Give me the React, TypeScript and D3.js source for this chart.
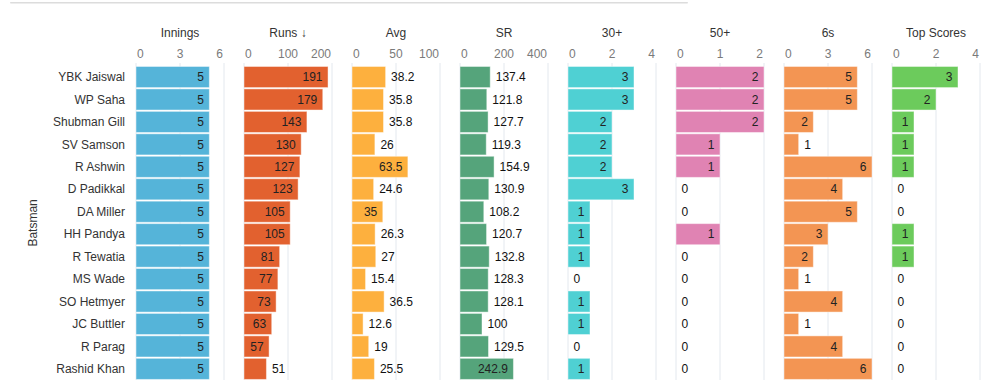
import React from "react";
import * as d3 from "d3";

const batsmen = ["YBK Jaiswal", "WP Saha", "Shubman Gill", "SV Samson", "R Ashwin", "D Padikkal", "DA Miller", "HH Pandya", "R Tewatia", "MS Wade", "SO Hetmyer", "JC Buttler", "R Parag", "Rashid Khan"];
const innings = [5, 5, 5, 5, 5, 5, 5, 5, 5, 5, 5, 5, 5, 5];
const runs = [191, 179, 143, 130, 127, 123, 105, 105, 81, 77, 73, 63, 57, 51];
const avg = [38.2, 35.8, 35.8, 26, 63.5, 24.6, 35, 26.3, 27, 15.4, 36.5, 12.6, 19, 25.5];
const sr = [137.4, 121.8, 127.7, 119.3, 154.9, 130.9, 108.2, 120.7, 132.8, 128.3, 128.1, 100, 129.5, 242.9];
const thirties = [3, 3, 2, 2, 2, 3, 1, 1, 1, 0, 1, 1, 0, 1];
const fifties = [2, 2, 2, 1, 1, 0, 0, 1, 0, 0, 0, 0, 0, 0];
const sixes = [5, 5, 2, 1, 6, 4, 5, 3, 2, 1, 4, 1, 4, 6];
const topScores = [3, 2, 1, 1, 1, 0, 0, 1, 1, 0, 0, 0, 0, 0];

const measureTitles = ["Innings", "Runs \u2193", "Avg", "SR", "30+", "50+", "6s", "Top Scores"];
const measureValues = [innings, runs, avg, sr, thirties, fifties, sixes, topScores];
const measureMax = [6, 200, 100, 400, 4, 2, 6, 4];
const measureTicks = [[0, 3, 6], [0, 100, 200], [0, 50, 100], [0, 200, 400], [0, 2, 4], [0, 1, 2], [0, 3, 6], [0, 2, 4]];
const measureColors = ["#55b4d9", "#e2612f", "#fdb03e", "#55a47b", "#4fd0d3", "#e083b3", "#f39553", "#6ccb5c"];

const W = 990;
const H = 380;
const FONT = "Arial, 'Liberation Sans', sans-serif";

let ctx: CanvasRenderingContext2D | null = null;
function textWidth(s: string): number {
  if (!ctx) {
    const c = document.createElement("canvas");
    ctx = c.getContext("2d");
  }
  if (ctx) {
    ctx.font = "12px Arial, 'Liberation Sans', sans-serif";
    return ctx.measureText(s).width;
  }
  return s.length * 6.7;
}

export default function App() {
  const panelW = 88;
  const gap = 20;
  const step = panelW + gap;
  const panelX = d3.scaleBand<number>().domain(d3.range(8)).range([136, 136 + 8 * step - gap]).paddingInner(gap / step).paddingOuter(0).align(0);
  const y = d3.scaleBand<string>().domain(batsmen).range([65.8, 65.8 + batsmen.length * 22.45]).paddingInner(0.06).paddingOuter(0.03);

  return (
    <svg width={W} height={H} style={{ position: "absolute", left: 0, top: 0, background: "#fff" }} fontFamily={FONT}>
      <rect x={10} y={2} width={678} height={1.5} rx={0.75} fill="#dcdcdc" />
      <text transform={`translate(37,${(y.range()[0] + y.range()[1]) / 2}) rotate(-90)`} textAnchor="middle" fontSize={12} fill="#333">Batsman</text>
      {batsmen.map((b) => (
        <text key={b} x={125} y={(y(b) as number) + y.bandwidth() / 2} dy="0.35em" textAnchor="end" fontSize={12} fill="#333">{b}</text>
      ))}
      {measureTitles.map((title, i) => {
        const x0 = panelX(i) as number;
        const xs = d3.scaleLinear().domain([0, measureMax[i]]).range([x0, x0 + panelW]);
        const ticks = measureTicks[i];
        const vals = measureValues[i];
        return (
          <g key={title}>
            <text x={x0 + panelW / 2} y={37} textAnchor="middle" fontSize={12} fill="#333">{title}</text>
            {ticks.map((t, k) => (
              <g key={k}>
                <line x1={xs(t)} x2={xs(t)} y1={63} y2={H} stroke="#e3e8ee" strokeWidth={1} />
                <text x={k === 0 ? xs(t) + 1 : k === ticks.length - 1 ? xs(t) - 1 : xs(t)} y={58} textAnchor={k === 0 ? "start" : k === ticks.length - 1 ? "end" : "middle"} fontSize={12} fill="#7a7a7a">{t}</text>
              </g>
            ))}
            {vals.map((v, r) => {
              const yy = y(batsmen[r]) as number;
              const bw = xs(v) - xs(0);
              const label = String(v);
              const tw = textWidth(label);
              const inside = bw >= tw + 11;
              return (
                <g key={r}>
                  {v > 0 && (
                    <rect x={xs(0)} y={yy} width={bw} height={y.bandwidth()} fill={measureColors[i]} stroke="#ffffff" strokeOpacity={0.45} strokeWidth={1} />
                  )}
                  <text x={inside ? xs(v) - 5.5 : xs(v) + 5.5} y={yy + y.bandwidth() / 2} dy="0.35em" textAnchor={inside ? "end" : "start"} fontSize={12} fill={inside ? "#222" : "#111"}>{label}</text>
                </g>
              );
            })}
          </g>
        );
      })}
    </svg>
  );
}
